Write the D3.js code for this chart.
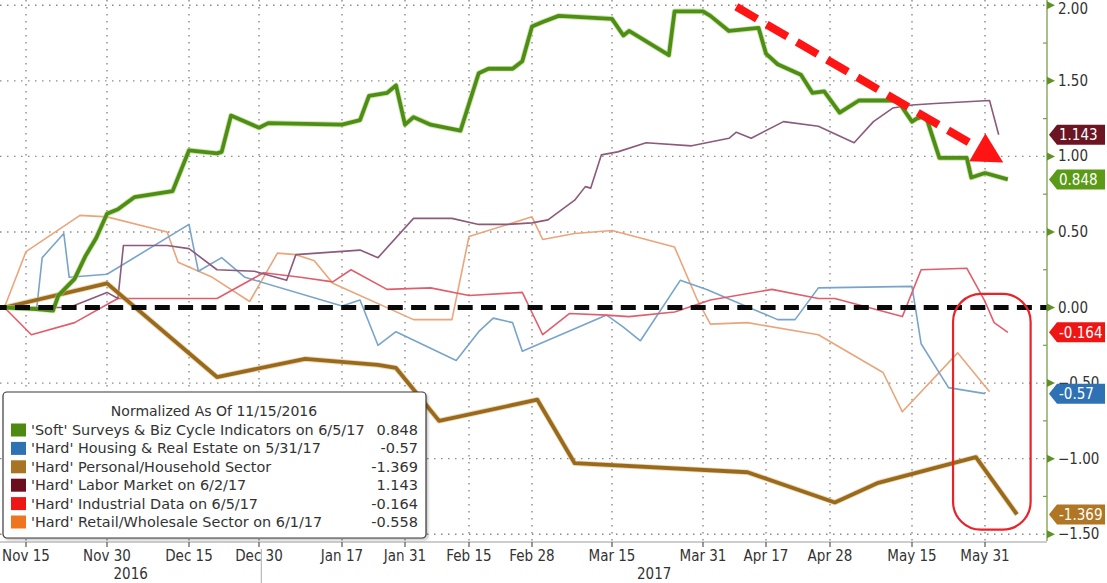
<!DOCTYPE html>
<html><head><meta charset="utf-8">
<script src="https://cdn.jsdelivr.net/npm/d3@7"></script>
<style>
html,body{margin:0;padding:0;background:#fff;}
svg{display:block;}
</style></head><body>
<svg id="chart" width="1107" height="583"></svg>
<script>
// ---------- DATA ----------
const tickLabels = ["Nov 15","Nov 30","Dec 15","Dec 30","Jan 17","Jan 31","Feb 15","Feb 28","Mar 15","Mar 31","Apr 17","Apr 28","May 15","May 31"];
const tickDates  = ["2016-11-15","2016-11-30","2016-12-15","2016-12-30","2017-01-17","2017-01-31","2017-02-15","2017-02-28","2017-03-15","2017-03-31","2017-04-17","2017-04-28","2017-05-15","2017-05-31"];
const yearLabels = ["2016","2017"];
const yTicks = [-1.5,-1,-0.5,0,0.5,1,1.5,2];
const legendTitle = "Normalized As Of 11/15/2016";
const seriesNames = [
  "'Soft' Surveys & Biz Cycle Indicators on 6/5/17",
  "'Hard' Housing & Real Estate on 5/31/17",
  "'Hard' Personal/Household Sector",
  "'Hard' Labor Market on 6/2/17",
  "'Hard' Industrial Data on 6/5/17",
  "'Hard' Retail/Wholesale Sector on 6/1/17"
];

const soft = [["2016-11-11",0],["2016-11-17",-0.01],["2016-11-20",-0.02],["2016-11-21",0.08],["2016-11-24",0.19],["2016-11-26",0.34],["2016-11-28",0.46],["2016-11-30",0.62],["2016-12-02",0.65],["2016-12-05",0.73],["2016-12-12",0.77],["2016-12-15",1.04],["2016-12-21",1.02],["2016-12-22",1.03],["2016-12-24",1.27],["2016-12-30",1.19],["2017-01-01",1.22],["2017-01-17",1.21],["2017-01-21",1.24],["2017-01-23",1.40],["2017-01-27",1.42],["2017-01-29",1.47],["2017-01-31",1.21],["2017-02-02",1.26],["2017-02-06",1.21],["2017-02-13",1.17],["2017-02-17",1.55],["2017-02-19",1.58],["2017-02-24",1.58],["2017-02-26",1.63],["2017-02-28",1.86],["2017-03-02",1.89],["2017-03-05",1.93],["2017-03-15",1.91],["2017-03-17",1.80],["2017-03-18",1.83],["2017-03-25",1.67],["2017-03-26",1.96],["2017-03-31",1.96],["2017-04-02",1.93],["2017-04-07",1.83],["2017-04-15",1.85],["2017-04-17",1.68],["2017-04-19",1.61],["2017-04-23",1.54],["2017-04-25",1.42],["2017-04-27",1.43],["2017-04-30",1.29],["2017-05-04",1.37],["2017-05-12",1.37],["2017-05-15",1.23],["2017-05-16",1.25],["2017-05-18",1.27],["2017-05-21",0.99],["2017-05-27",0.99],["2017-05-28",0.86],["2017-05-31",0.89],["2017-06-05",0.848]];

const housing = [["2016-11-11",0],["2016-11-17",0.00],["2016-11-18",0.33],["2016-11-22",0.49],["2016-11-23",0.20],["2016-11-30",0.22],["2016-12-15",0.55],["2016-12-17",0.24],["2016-12-22",0.33],["2016-12-27",0.20],["2017-01-17",0.01],["2017-01-21",0.05],["2017-01-25",-0.25],["2017-01-29",-0.16],["2017-02-12",-0.35],["2017-02-17",-0.16],["2017-02-20",-0.07],["2017-02-24",-0.10],["2017-02-26",-0.29],["2017-03-14",-0.05],["2017-03-17",-0.13],["2017-03-20",-0.22],["2017-03-27",0.18],["2017-04-01",0.12],["2017-04-19",-0.08],["2017-04-22",-0.08],["2017-04-26",0.13],["2017-05-15",0.14],["2017-05-17",-0.24],["2017-05-23",-0.53],["2017-05-31",-0.57]];

const personal = [["2016-11-11",0],["2016-11-30",0.16],["2016-12-21",-0.46],["2017-01-09",-0.34],["2017-01-25",-0.38],["2017-01-29",-0.40],["2017-02-08",-0.75],["2017-03-01",-0.61],["2017-03-08",-1.03],["2017-04-12",-1.09],["2017-04-29",-1.29],["2017-05-08",-1.16],["2017-05-29",-0.99],["2017-06-07",-1.369]];

const labor = [["2016-11-11",0],["2016-11-23",0.00],["2016-11-30",0.10],["2016-12-02",0.06],["2016-12-03",0.41],["2016-12-11",0.41],["2016-12-15",0.39],["2016-12-21",0.25],["2016-12-29",0.24],["2017-01-05",0.18],["2017-01-07",0.35],["2017-01-21",0.38],["2017-01-25",0.33],["2017-02-02",0.59],["2017-02-11",0.59],["2017-02-17",0.55],["2017-02-23",0.55],["2017-02-28",0.56],["2017-03-03",0.58],["2017-03-08",0.71],["2017-03-10",0.80],["2017-03-11",0.79],["2017-03-13",1.01],["2017-03-16",1.03],["2017-03-21",1.09],["2017-03-29",1.07],["2017-04-05",1.11],["2017-04-07",1.12],["2017-04-09",1.16],["2017-04-13",1.12],["2017-04-20",1.23],["2017-04-26",1.20],["2017-05-03",1.09],["2017-05-07",1.23],["2017-05-11",1.32],["2017-05-15",1.34],["2017-05-20",1.35],["2017-06-01",1.37],["2017-06-03",1.143]];

const industrial = [["2016-11-11",0],["2016-11-16",-0.18],["2016-11-24",-0.10],["2016-11-30",0.02],["2016-12-02",0.06],["2016-12-12",0.06],["2016-12-21",0.06],["2016-12-31",0.23],["2017-01-08",0.20],["2017-01-15",0.17],["2017-01-19",0.25],["2017-01-27",0.12],["2017-02-06",0.13],["2017-02-15",0.08],["2017-02-26",0.10],["2017-03-02",-0.18],["2017-03-07",-0.04],["2017-03-14",-0.05],["2017-03-18",-0.06],["2017-03-26",-0.03],["2017-04-02",0.05],["2017-04-18",0.12],["2017-04-26",0.06],["2017-04-29",0.06],["2017-05-13",-0.06],["2017-05-17",0.25],["2017-05-27",0.26],["2017-05-31",0.04],["2017-06-02",-0.10],["2017-06-05",-0.164]];

const retail = [["2016-11-11",0],["2016-11-15",0.37],["2016-11-25",0.61],["2016-11-30",0.60],["2016-12-11",0.50],["2016-12-13",0.30],["2016-12-20",0.20],["2016-12-28",0.04],["2017-01-03",0.36],["2017-01-07",0.35],["2017-01-11",0.31],["2017-01-15",0.16],["2017-02-02",-0.08],["2017-02-11",-0.08],["2017-02-15",0.47],["2017-02-28",0.60],["2017-03-02",0.45],["2017-03-08",0.49],["2017-03-15",0.51],["2017-03-26",0.40],["2017-03-30",0.05],["2017-04-02",-0.11],["2017-04-12",-0.10],["2017-04-26",-0.18],["2017-05-09",-0.43],["2017-05-13",-0.69],["2017-05-25",-0.30],["2017-06-01",-0.558]];

// annotations (in data coordinates)
const trendArrow = [["2017-04-09",1.99],["2017-06-04",0.96]];
const highlightBox = [["2017-05-24",0.09],["2017-06-10",-1.47]];

// ---------- LAYOUT / STYLE ----------
const W = 1107, H = 583;
const plotRight = 1047, plotBottom = 541;
const tickPx = [26,107,189,259,342,405,469,532,612,703,766,830,912,985];
const NARROW = "'Liberation Sans Narrow','DejaVu Sans Condensed','Arial Narrow','DejaVu Sans',sans-serif";
const LEGFONT = "'DejaVu Sans',Tahoma,sans-serif";

const parse = d3.timeParse("%Y-%m-%d");
const x = d3.scaleTime().domain(tickDates.map(parse)).range(tickPx);
const y = d3.scaleLinear().domain([-1.545, 2.035]).range([plotBottom, 0]);

const svg = d3.select("#chart");
const defs = svg.append("defs");
defs.append("filter").attr("id","blur").append("feGaussianBlur").attr("stdDeviation",1.6);
defs.append("filter").attr("id","shadow").attr("x","-5%").attr("y","-5%").attr("width","115%").attr("height","115%")
  .append("feGaussianBlur").attr("stdDeviation",1.5);

svg.append("rect").attr("width",W).attr("height",H).attr("fill","#fff");

// gridlines
const grid = svg.append("g");
grid.selectAll("line.h").data(yTicks.filter(v=>v!==0)).join("line")
  .attr("x1",0).attr("x2",plotRight).attr("y1",d=>y(d)).attr("y2",d=>y(d))
  .attr("stroke","#8a8a8a").attr("stroke-width",1.4).attr("stroke-dasharray","1.5 5.5");
grid.selectAll("line.v").data(tickDates).join("line")
  .attr("x1",d=>x(parse(d))).attr("x2",d=>x(parse(d))).attr("y1",0).attr("y2",plotBottom)
  .attr("stroke","#8a8a8a").attr("stroke-width",1.4).attr("stroke-dasharray","1.5 5.5");

const line = d3.line().x(d=>x(parse(d[0]))).y(d=>y(d[1]));

// thin series
const thin = [
  {data: retail, color:"#eaa57a"},
  {data: housing, color:"#78a4cc"},
  {data: industrial, color:"#e25d6c"},
  {data: labor, color:"#8c5a7a"}
];
thin.forEach(s=>{
  svg.append("path").attr("d",line(s.data)).attr("fill","none")
    .attr("stroke",s.color).attr("stroke-width",1.6).attr("stroke-linejoin","round");
});

// thick series with soft halo
[{data: personal, core:"#9a6a1c", halo:"#d8b880"},
 {data: soft, core:"#4f8e14", halo:"#a8d078"}].forEach(s=>{
  svg.append("path").attr("d",line(s.data)).attr("fill","none")
    .attr("stroke",s.halo).attr("stroke-width",5.6).attr("stroke-linejoin","round").attr("opacity",0.55);
  svg.append("path").attr("d",line(s.data)).attr("fill","none")
    .attr("stroke",s.core).attr("stroke-width",3.8).attr("stroke-linejoin","round");
});

// zero dashed line
svg.append("line").attr("x1",0).attr("x2",plotRight).attr("y1",y(0)+1.5).attr("y2",y(0)+1.5)
  .attr("stroke","#000").attr("stroke-opacity",0.45).attr("stroke-width",7)
  .attr("stroke-dasharray","15 8.3").attr("stroke-dashoffset",8.3).attr("filter","url(#blur)");
svg.append("line").attr("x1",0).attr("x2",plotRight).attr("y1",y(0)).attr("y2",y(0))
  .attr("stroke","#0a0a0a").attr("stroke-width",5)
  .attr("stroke-dasharray","15 8.3").attr("stroke-dashoffset",8.3);

// red trend arrow
(function(){
  const p0=[x(parse(trendArrow[0][0])), y(trendArrow[0][1])];
  const p1=[x(parse(trendArrow[1][0])), y(trendArrow[1][1])];
  const dx=p1[0]-p0[0], dy=p1[1]-p0[1], L=Math.hypot(dx,dy), ux=dx/L, uy=dy/L;
  const headL=30, headW=16;
  const b=[p1[0]-ux*headL, p1[1]-uy*headL];
  svg.append("line").attr("x1",p0[0]).attr("y1",p0[1]).attr("x2",b[0]).attr("y2",b[1])
    .attr("stroke","#ff1414").attr("stroke-width",8).attr("stroke-dasharray","24 11");
  svg.append("path").attr("d",`M${p1[0]},${p1[1]}L${b[0]-uy*headW},${b[1]+ux*headW}L${b[0]+uy*headW},${b[1]-ux*headW}Z`)
    .attr("fill","#ff1414");
})();

// highlight box
(function(){
  const x0=x(parse(highlightBox[0][0])), x1=x(parse(highlightBox[1][0]));
  const y0=y(highlightBox[0][1]), y1=y(highlightBox[1][1]);
  svg.append("rect").attr("x",x0).attr("y",y0).attr("width",x1-x0).attr("height",y1-y0)
    .attr("rx",28).attr("ry",28).attr("fill","none").attr("stroke","#e8242a").attr("stroke-width",2.2);
})();

// legend
const series = [
  {name:seriesNames[0], data:soft, color:"#4e8a12", tag:"#5a9a16"},
  {name:seriesNames[1], data:housing, color:"#2f72b4", tag:"#2f72b4"},
  {name:seriesNames[2], data:personal, color:"#a97326", tag:"#b07624"},
  {name:seriesNames[3], data:labor, color:"#6b0f1f", tag:"#6b1422"},
  {name:seriesNames[4], data:industrial, color:"#ee1515", tag:"#ee1515"},
  {name:seriesNames[5], data:retail, color:"#ef7420", tag:null}
];
const lg = svg.append("g");
lg.append("rect").attr("x",5).attr("y",394).attr("width",423).attr("height",146).attr("rx",4)
  .attr("fill","#000").attr("opacity",0.25).attr("filter","url(#shadow)");
lg.append("rect").attr("x",3).attr("y",392).attr("width",423).attr("height",146).attr("rx",4)
  .attr("fill","#fff").attr("stroke","#3a3a3a").attr("stroke-width",1.2);
lg.append("text").attr("x",214).attr("y",411).attr("text-anchor","middle").attr("dominant-baseline","central")
  .attr("font-family",LEGFONT).attr("font-size",14).attr("fill","#333").text(legendTitle);
const nameTexts = [];
series.forEach((s,i)=>{
  const cy = 430 + i*18.4;
  lg.append("rect").attr("x",11).attr("y",cy-6.5).attr("width",15).attr("height",13).attr("fill",s.color);
  nameTexts.push(lg.append("text").attr("x",31).attr("y",cy).attr("dominant-baseline","central")
    .attr("font-family",LEGFONT).attr("font-size",15).attr("fill","#333").text(s.name));
  lg.append("text").attr("x",418).attr("y",cy).attr("dominant-baseline","central").attr("text-anchor","end")
    .attr("font-family",LEGFONT).attr("font-size",14.5).attr("fill","#333").text(String(s.data[s.data.length-1][1]));
});
// fit legend names so the longest ends before the value column
(function(){
  const maxW = 334;
  const longest = d3.max(nameTexts, t=>t.node().getComputedTextLength());
  if (longest > maxW) {
    const fs = 15 * maxW / longest;
    nameTexts.forEach(t=>t.attr("font-size", fs));
  }
})();

// right axis
const ax = svg.append("g");
ax.append("line").attr("x1",plotRight).attr("x2",plotRight).attr("y1",0).attr("y2",plotBottom)
  .attr("stroke","#7d9c4c").attr("stroke-width",1.3);
const minor = d3.range(-1.5, 2.01, 0.25).filter(v=>Math.abs(v*2-Math.round(v*2))>0.01);
ax.selectAll("line.mn").data(minor).join("line")
  .attr("x1",plotRight-4).attr("x2",plotRight).attr("y1",d=>y(d)).attr("y2",d=>y(d))
  .attr("stroke","#7d9c4c").attr("stroke-width",1.2);
ax.selectAll("path.tri").data(yTicks).join("path")
  .attr("d",d=>`M${plotRight},${y(d)-4}L${plotRight+8},${y(d)}L${plotRight},${y(d)+4}Z`)
  .attr("fill","#5f9225");
ax.selectAll("text.yl").data(yTicks).join("text")
  .attr("x",plotRight+11).attr("y",d=>Math.max(y(d),8.5)).attr("dominant-baseline","central")
  .attr("font-family",NARROW).attr("font-size",15).attr("fill","#333")
  .text(d=>d3.format(".2f")(d));

// value tags
series.filter(s=>s.tag).forEach(s=>{
  const v = s.data[s.data.length-1][1];
  const cy = y(v);
  ax.append("path").attr("d",`M${plotRight+2},${cy}L${plotRight+10},${cy-10}L${W-2},${cy-10}L${W-2},${cy+10}L${plotRight+10},${cy+10}Z`)
    .attr("fill",s.tag);
  ax.append("text").attr("x",plotRight+12).attr("y",cy+0.5).attr("dominant-baseline","central")
    .attr("font-family",NARROW).attr("font-size",15).attr("fill","#fff").text(String(v));
});

// bottom axis
const bx = svg.append("g");
bx.append("line").attr("x1",0).attr("x2",plotRight).attr("y1",plotBottom+1).attr("y2",plotBottom+1)
  .attr("stroke","#9a9a9a").attr("stroke-width",1);
bx.selectAll("line.tk").data(tickDates).join("line")
  .attr("x1",d=>x(parse(d))).attr("x2",d=>x(parse(d))).attr("y1",plotBottom+1).attr("y2",plotBottom+6)
  .attr("stroke","#555").attr("stroke-width",1.2);
bx.selectAll("text.xl").data(tickDates).join("text")
  .attr("x",d=>x(parse(d))).attr("y",556).attr("text-anchor","middle").attr("dominant-baseline","central")
  .attr("font-family",NARROW).attr("font-size",15).attr("fill","#333")
  .text((d,i)=>tickLabels[i]);
const sep = x(new Date(2016,11,30,12));
bx.append("line").attr("x1",sep).attr("x2",sep).attr("y1",549).attr("y2",583).attr("stroke","#aaa").attr("stroke-width",1);
bx.selectAll("text.yr").data(yearLabels).join("text")
  .attr("x",(d,i)=> i===0 ? sep/2 : (sep+plotRight)/2).attr("y",574)
  .attr("text-anchor","middle").attr("dominant-baseline","central")
  .attr("font-family",NARROW).attr("font-size",15).attr("fill","#333").text(d=>d);
</script>
</body></html>
